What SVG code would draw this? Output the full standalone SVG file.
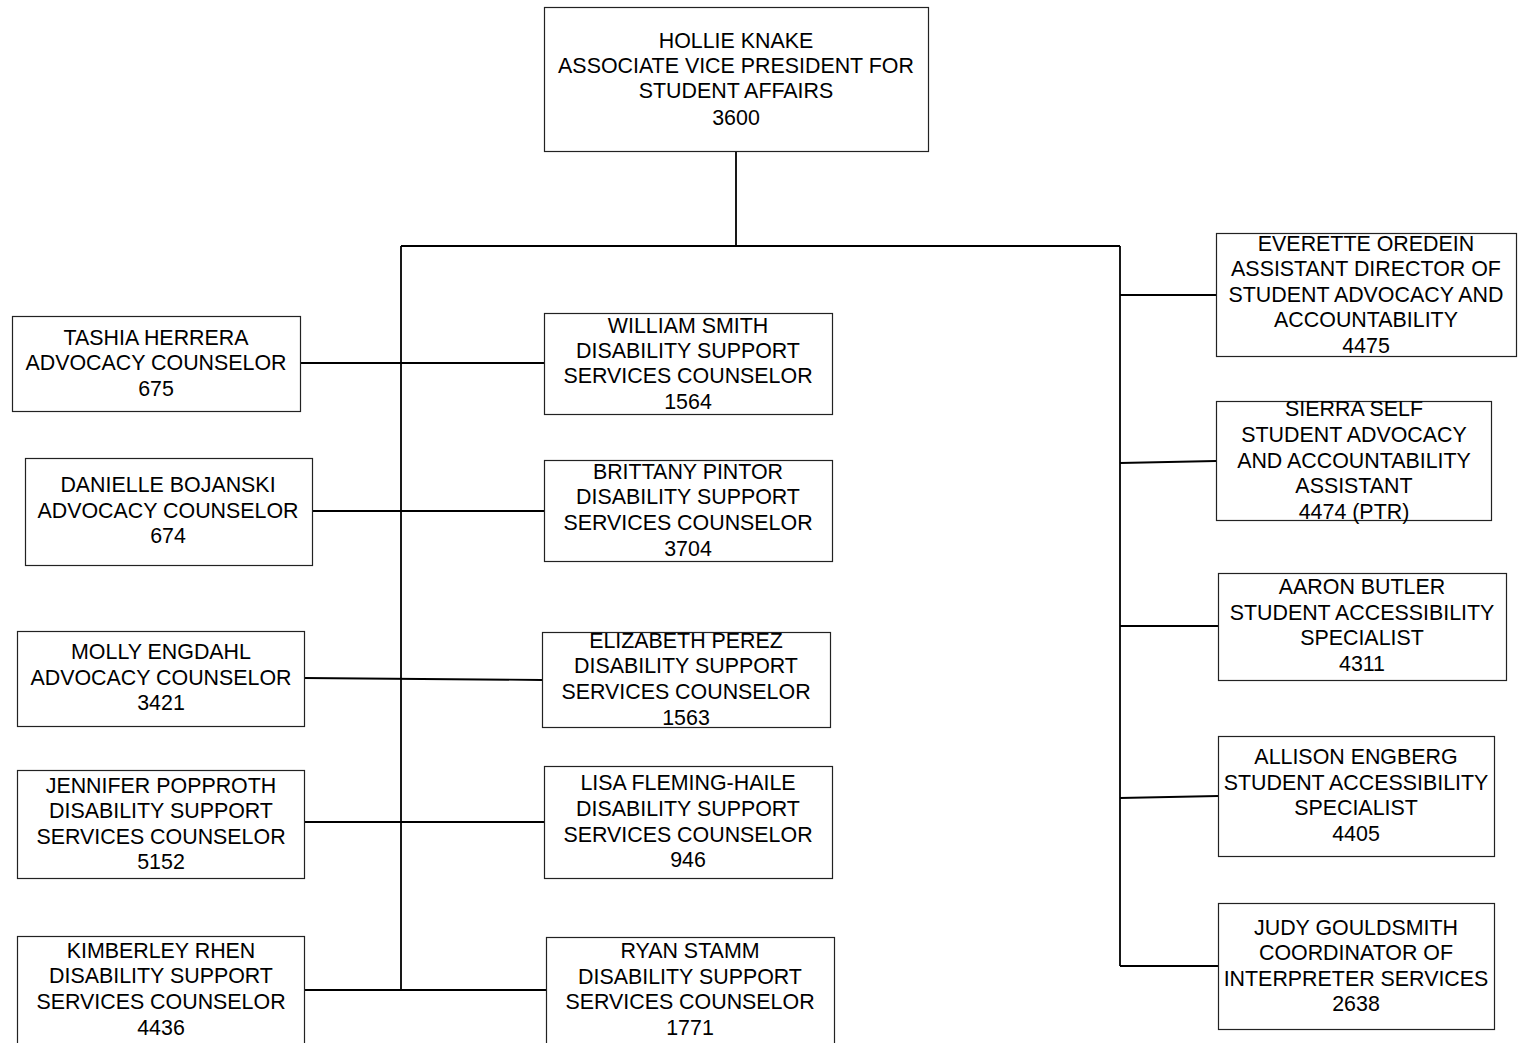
<svg xmlns="http://www.w3.org/2000/svg" width="1519" height="1043" viewBox="0 0 1519 1043">
<style>
.b{fill:#fff;stroke:#222;stroke-width:1.2}
.t{font-family:"Liberation Sans",Arial,sans-serif;font-size:21.4px;fill:#000;text-anchor:middle}
.c{fill:none;stroke:#000;stroke-width:1.8}
</style>
<rect width="1519" height="1043" fill="#fff"/>
<g id="connectors">
<path class="c" d="M736 151V246M401 246H1120M401 246V990M1120 246V966"/>
<path class="c" d="M300 363H544M312 511H544M304 678L542 680M304 822H544M304 990H546"/>
<path class="c" d="M1120 295H1216M1120 463L1216 461M1120 626H1218M1120 798L1218 796M1120 966H1218"/>
</g>
<g id="hollie"><rect class="b" x="544.5" y="7.5" width="384" height="144"/>
<text class="t" x="736"><tspan x="736" y="48">HOLLIE KNAKE</tspan><tspan x="736" y="73">ASSOCIATE VICE PRESIDENT FOR</tspan><tspan x="736" y="98">STUDENT AFFAIRS</tspan><tspan x="736" y="125">3600</tspan></text></g>
<g id="tashia"><rect class="b" x="12.5" y="316.5" width="288" height="95"/>
<text class="t"><tspan x="156" y="345">TASHIA HERRERA</tspan><tspan x="156" y="370">ADVOCACY COUNSELOR</tspan><tspan x="156" y="396">675</tspan></text></g>
<g id="danielle"><rect class="b" x="25.5" y="458.5" width="287" height="107"/>
<text class="t"><tspan x="168" y="492">DANIELLE BOJANSKI</tspan><tspan x="168" y="518">ADVOCACY COUNSELOR</tspan><tspan x="168" y="543">674</tspan></text></g>
<g id="molly"><rect class="b" x="17.5" y="631.5" width="287" height="95"/>
<text class="t"><tspan x="161" y="659">MOLLY ENGDAHL</tspan><tspan x="161" y="685">ADVOCACY COUNSELOR</tspan><tspan x="161" y="710">3421</tspan></text></g>
<g id="jennifer"><rect class="b" x="17.5" y="770.5" width="287" height="108"/>
<text class="t"><tspan x="161" y="793">JENNIFER POPPROTH</tspan><tspan x="161" y="818">DISABILITY SUPPORT</tspan><tspan x="161" y="844">SERVICES COUNSELOR</tspan><tspan x="161" y="869">5152</tspan></text></g>
<g id="kimberley"><rect class="b" x="17.5" y="936.5" width="287" height="110"/>
<text class="t"><tspan x="161" y="958">KIMBERLEY RHEN</tspan><tspan x="161" y="983">DISABILITY SUPPORT</tspan><tspan x="161" y="1009">SERVICES COUNSELOR</tspan><tspan x="161" y="1035">4436</tspan></text></g>
<g id="william"><rect class="b" x="544.5" y="313.5" width="288" height="101"/>
<text class="t"><tspan x="688" y="333">WILLIAM SMITH</tspan><tspan x="688" y="358">DISABILITY SUPPORT</tspan><tspan x="688" y="383">SERVICES COUNSELOR</tspan><tspan x="688" y="409">1564</tspan></text></g>
<g id="brittany"><rect class="b" x="544.5" y="460.5" width="288" height="101"/>
<text class="t"><tspan x="688" y="479">BRITTANY PINTOR</tspan><tspan x="688" y="504">DISABILITY SUPPORT</tspan><tspan x="688" y="530">SERVICES COUNSELOR</tspan><tspan x="688" y="556">3704</tspan></text></g>
<g id="elizabeth"><rect class="b" x="542.5" y="632.5" width="288" height="95"/>
<text class="t"><tspan x="686" y="648">ELIZABETH PEREZ</tspan><tspan x="686" y="673">DISABILITY SUPPORT</tspan><tspan x="686" y="699">SERVICES COUNSELOR</tspan><tspan x="686" y="725">1563</tspan></text></g>
<g id="lisa"><rect class="b" x="544.5" y="766.5" width="288" height="112"/>
<text class="t"><tspan x="688" y="790">LISA FLEMING-HAILE</tspan><tspan x="688" y="816">DISABILITY SUPPORT</tspan><tspan x="688" y="842">SERVICES COUNSELOR</tspan><tspan x="688" y="867">946</tspan></text></g>
<g id="ryan"><rect class="b" x="546.5" y="937.5" width="288" height="110"/>
<text class="t"><tspan x="690" y="958">RYAN STAMM</tspan><tspan x="690" y="984">DISABILITY SUPPORT</tspan><tspan x="690" y="1009">SERVICES COUNSELOR</tspan><tspan x="690" y="1035">1771</tspan></text></g>
<g id="everette"><rect class="b" x="1216.5" y="233.5" width="300" height="123"/>
<text class="t"><tspan x="1366" y="251">EVERETTE OREDEIN</tspan><tspan x="1366" y="276">ASSISTANT DIRECTOR OF</tspan><tspan x="1366" y="302">STUDENT ADVOCACY AND</tspan><tspan x="1366" y="327">ACCOUNTABILITY</tspan><tspan x="1366" y="353">4475</tspan></text></g>
<g id="sierra"><rect class="b" x="1216.5" y="401.5" width="275" height="119"/>
<text class="t"><tspan x="1354" y="416">SIERRA SELF</tspan><tspan x="1354" y="442">STUDENT ADVOCACY</tspan><tspan x="1354" y="468">AND ACCOUNTABILITY</tspan><tspan x="1354" y="493">ASSISTANT</tspan><tspan x="1354" y="519">4474 (PTR)</tspan></text></g>
<g id="aaron"><rect class="b" x="1218.5" y="573.5" width="288" height="107"/>
<text class="t"><tspan x="1362" y="594">AARON BUTLER</tspan><tspan x="1362" y="620">STUDENT ACCESSIBILITY</tspan><tspan x="1362" y="645">SPECIALIST</tspan><tspan x="1362" y="671">4311</tspan></text></g>
<g id="allison"><rect class="b" x="1218.5" y="736.5" width="276" height="120"/>
<text class="t"><tspan x="1356" y="764">ALLISON ENGBERG</tspan><tspan x="1356" y="790">STUDENT ACCESSIBILITY</tspan><tspan x="1356" y="815">SPECIALIST</tspan><tspan x="1356" y="841">4405</tspan></text></g>
<g id="judy"><rect class="b" x="1218.5" y="903.5" width="276" height="126"/>
<text class="t"><tspan x="1356" y="935">JUDY GOULDSMITH</tspan><tspan x="1356" y="960">COORDINATOR OF</tspan><tspan x="1356" y="986">INTERPRETER SERVICES</tspan><tspan x="1356" y="1011">2638</tspan></text></g>
</svg>
